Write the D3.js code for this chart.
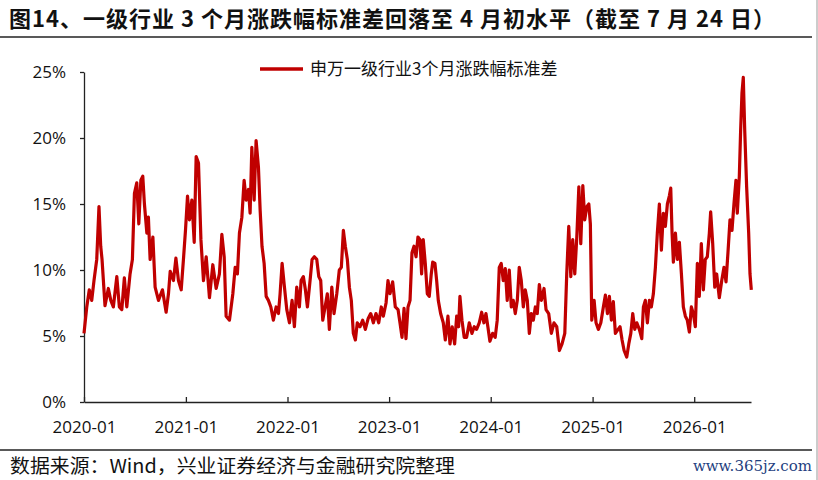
<!DOCTYPE html>
<html>
<head>
<meta charset="utf-8">
<script src="https://cdn.jsdelivr.net/npm/d3@7"></script>
<style>
  html, body { margin: 0; padding: 0; background: #fff; }
  svg { display: block; }
</style>
</head>
<body>
<svg id="chart" width="818" height="480"></svg>
<script>
const title = "图14、一级行业 3 个月涨跌幅标准差回落至 4 月初水平（截至 7 月 24 日）";
const source = "数据来源：Wind，兴业证券经济与金融研究院整理";
const seriesName = "申万一级行业3个月涨跌幅标准差";
const yTicks = [0, 5, 10, 15, 20, 25];
const startDate = new Date(2020, 0, 1);
const endDate = new Date(2026, 6, 24);

// time since 2020-01-01, in years
const yearsSince2020 = [
  0.000, 0.027, 0.052, 0.076, 0.098, 0.125, 0.147, 0.164, 0.177, 0.206,
  0.239, 0.263, 0.288, 0.322, 0.347, 0.371, 0.396, 0.420, 0.452, 0.475,
  0.495, 0.518, 0.538, 0.558, 0.577, 0.593, 0.617, 0.632, 0.649, 0.676,
  0.698, 0.731, 0.770, 0.806, 0.829, 0.846, 0.878, 0.902, 0.927, 0.954,
  0.976, 0.996, 1.016, 1.035, 1.059, 1.082, 1.101, 1.124, 1.148, 1.173,
  1.200, 1.232, 1.265, 1.298, 1.330, 1.354, 1.377, 1.396, 1.429, 1.462,
  1.485, 1.507, 1.527, 1.551, 1.573, 1.593, 1.616, 1.632, 1.649, 1.672,
  1.691, 1.714, 1.731, 1.749, 1.770, 1.790, 1.812, 1.836, 1.861, 1.888,
  1.911, 1.927, 1.947, 1.970, 1.993, 2.019, 2.045, 2.068, 2.091, 2.117,
  2.134, 2.156, 2.176, 2.196, 2.222, 2.242, 2.264, 2.288, 2.308, 2.327,
  2.347, 2.370, 2.392, 2.412, 2.436, 2.458, 2.485, 2.510, 2.530, 2.550,
  2.569, 2.589, 2.609, 2.628, 2.648, 2.668, 2.687, 2.714, 2.740, 2.766,
  2.793, 2.819, 2.845, 2.871, 2.898, 2.923, 2.943, 2.970, 2.989, 3.009,
  3.035, 3.061, 3.088, 3.107, 3.127, 3.147, 3.166, 3.186, 3.206, 3.225,
  3.245, 3.265, 3.284, 3.304, 3.320, 3.336, 3.356, 3.376, 3.395, 3.415,
  3.429, 3.451, 3.468, 3.484, 3.507, 3.533, 3.553, 3.579, 3.599, 3.621,
  3.645, 3.665, 3.684, 3.697, 3.717, 3.739, 3.763, 3.789, 3.815, 3.838,
  3.861, 3.887, 3.911, 3.933, 3.953, 3.972, 3.992, 4.019, 4.044, 4.064,
  4.084, 4.103, 4.123, 4.143, 4.162, 4.182, 4.202, 4.221, 4.241, 4.261,
  4.280, 4.300, 4.320, 4.339, 4.359, 4.379, 4.398, 4.418, 4.438, 4.457,
  4.477, 4.497, 4.523, 4.543, 4.569, 4.595, 4.621, 4.648, 4.674, 4.700,
  4.727, 4.746, 4.766, 4.786, 4.805, 4.825, 4.845, 4.865, 4.884, 4.904,
  4.923, 4.943, 4.963, 4.978, 4.992, 5.015, 5.034, 5.057, 5.081, 5.106,
  5.126, 5.146, 5.165, 5.185, 5.204, 5.224, 5.251, 5.270, 5.290, 5.310,
  5.336, 5.356, 5.376, 5.395, 5.415, 5.435, 5.460, 5.484, 5.500, 5.519,
  5.539, 5.559, 5.578, 5.598, 5.618, 5.637, 5.657, 5.677, 5.696, 5.716,
  5.736, 5.755, 5.769, 5.782, 5.795, 5.815, 5.834, 5.854, 5.874, 5.893,
  5.913, 5.932, 5.952, 5.972, 5.991, 6.011, 6.031, 6.050, 6.070, 6.090,
  6.109, 6.129, 6.149, 6.162, 6.182, 6.202, 6.221, 6.247, 6.271, 6.293,
  6.313, 6.332, 6.352, 6.372, 6.391, 6.411, 6.424, 6.444, 6.457, 6.470,
  6.483, 6.497, 6.516, 6.536, 6.549, 6.562
];

// 3-month return std across SW level-1 industries, %
const stdev = [
  5.2, 7.2, 8.5, 7.7, 9.2, 10.8, 14.8, 11.8, 10.8, 7.3,
  8.6, 7.7, 7.2, 9.5, 7.2, 7.0, 9.4, 7.2, 9.7, 10.8,
  15.8, 16.6, 13.5, 16.8, 17.1, 15.0, 12.8, 14.0, 10.8, 12.5,
  8.7, 7.7, 8.5, 6.8, 8.2, 9.9, 9.2, 10.9, 9.2, 8.5,
  10.8, 13.0, 15.6, 13.8, 15.3, 12.1, 18.6, 18.1, 12.3, 9.2,
  11.0, 7.9, 10.4, 8.6, 9.7, 12.7, 11.0, 6.5, 6.2, 8.2,
  10.2, 9.7, 12.8, 14.0, 16.8, 15.3, 16.1, 14.3, 19.3, 15.3,
  19.8, 17.8, 14.5, 11.8, 10.5, 8.0, 7.7, 7.2, 6.2, 7.2,
  6.7, 8.2, 10.5, 8.7, 7.0, 6.0, 7.7, 5.7, 8.7, 7.2,
  9.2, 9.5, 8.5, 7.2, 9.2, 10.8, 11.0, 10.8, 9.5, 9.2,
  6.2, 7.2, 8.2, 5.5, 8.7, 6.7, 8.2, 10.0, 10.2, 13.0,
  11.8, 10.8, 8.7, 7.7, 5.2, 4.7, 6.0, 5.7, 6.2, 5.5,
  6.3, 6.7, 6.0, 6.7, 6.0, 7.2, 6.5, 7.5, 9.2, 8.2,
  9.1, 7.2, 7.0, 6.0, 4.9, 7.1, 4.8, 7.2, 7.7, 11.3,
  11.8, 11.0, 12.5, 12.3, 9.7, 12.3, 10.5, 8.2, 8.0, 9.7,
  10.6, 10.5, 9.2, 7.7, 6.7, 6.0, 4.7, 6.5, 4.4, 5.7,
  4.4, 6.5, 5.7, 8.0, 6.2, 4.9, 4.9, 6.0, 5.2, 5.7,
  5.5, 6.0, 6.8, 6.0, 6.7, 5.7, 4.6, 5.2, 4.9, 6.2,
  10.2, 10.5, 9.2, 10.1, 7.7, 10.0, 7.2, 7.7, 6.7, 7.7,
  10.2, 9.2, 7.2, 8.5, 7.7, 5.2, 6.7, 6.2, 7.2, 6.7,
  8.9, 7.7, 8.6, 7.0, 6.7, 5.2, 6.0, 5.7, 3.9, 4.4,
  5.2, 9.7, 13.3, 9.5, 12.3, 9.7, 12.5, 16.3, 12.0, 16.4,
  13.8, 14.8, 15.0, 13.5, 6.2, 7.7, 6.0, 5.5, 6.0, 7.2,
  8.1, 6.7, 8.0, 6.2, 7.6, 5.2, 5.5, 5.7, 4.7, 3.9,
  3.4, 4.4, 5.2, 6.7, 5.5, 6.0, 5.5, 4.8, 7.2, 7.7,
  6.0, 7.7, 7.2, 8.2, 10.2, 12.8, 15.0, 11.5, 14.3, 13.3,
  15.0, 15.6, 16.2, 12.8, 10.6, 12.8, 10.8, 12.1, 9.7, 7.2,
  6.5, 6.2, 5.3, 7.2, 6.7, 5.7, 10.5, 8.0, 12.0, 8.5,
  10.8, 11.0, 12.8, 14.4, 12.0, 8.7, 9.7, 7.9, 9.2, 10.2,
  9.1, 11.3, 13.8, 13.0, 15.0, 16.8, 14.3, 17.1, 20.6, 23.4,
  24.6, 20.6, 16.3, 12.8, 9.7, 8.5
];

function toDate(t) {
  const y = 2020 + Math.floor(t);
  const a = new Date(y, 0, 1), b = new Date(y + 1, 0, 1);
  return new Date(+a + (t - Math.floor(t)) * (b - a));
}

const data = yearsSince2020.map((t, i) => ({ date: toDate(t), value: stdev[i] }));

const svg = d3.select("#chart"),
      width = 818,
      plotLeft = 84, plotRight = 751, plotTop = 72, plotBottom = 402;

svg.append("rect").attr("width", width).attr("height", 480).attr("fill", "#fff");

// title + rules
svg.append("text")
  .attr("x", 9).attr("y", 27)
  .attr("font-family", "'Noto Sans CJK SC', sans-serif")
  .attr("font-weight", "bold")
  .attr("font-size", 22)
  .attr("textLength", 766)
  .attr("lengthAdjust", "spacing")
  .attr("fill", "#111")
  .text(title);

svg.append("line").attr("x1", 0).attr("x2", 812).attr("y1", 37).attr("y2", 37)
  .attr("stroke", "#222").attr("stroke-width", 1.5);
svg.append("line").attr("x1", 0).attr("x2", 812).attr("y1", 450).attr("y2", 450)
  .attr("stroke", "#222").attr("stroke-width", 1.5);
svg.append("line").attr("x1", 817).attr("x2", 817).attr("y1", 0).attr("y2", 480)
  .attr("stroke", "#999").attr("stroke-width", 1);

const x = d3.scaleTime().domain([startDate, endDate]).range([plotLeft, plotRight]);
const y = d3.scaleLinear().domain([0, 25]).range([plotBottom, plotTop]);

const xAxis = d3.axisBottom(x)
  .tickValues(d3.timeYear.range(startDate, endDate))
  .tickFormat(d3.timeFormat("%Y-%m"))
  .tickSizeInner(-5).tickSizeOuter(0).tickPadding(19);

const yAxis = d3.axisLeft(y)
  .tickValues(yTicks)
  .tickFormat(d => d + "%")
  .tickSizeInner(4).tickSizeOuter(0).tickPadding(14);

const gx = svg.append("g")
  .attr("transform", `translate(0,${plotBottom})`)
  .call(xAxis);

const gy = svg.append("g")
  .attr("transform", `translate(${plotLeft},0)`)
  .call(yAxis);

[gx, gy].forEach(g => {
  g.selectAll("path, line").attr("stroke", "#222").attr("stroke-width", 1.3);
  g.selectAll("text")
    .attr("fill", "#111")
    .attr("font-family", "'Open Sans', 'Noto Sans', sans-serif")
    .attr("font-size", 17);
});

const line = d3.line()
  .x(d => x(d.date))
  .y(d => y(d.value));

svg.append("path")
  .datum(data)
  .attr("d", line)
  .attr("fill", "none")
  .attr("stroke", "#C00000")
  .attr("stroke-width", 3.2)
  .attr("stroke-linejoin", "round");

// legend
const legend = svg.append("g").attr("transform", "translate(260,69)");
legend.append("line").attr("x1", 0).attr("x2", 43)
  .attr("stroke", "#C00000").attr("stroke-width", 3.5);
legend.append("text")
  .attr("x", 50).attr("dy", "0.35em")
  .attr("font-family", "'Noto Sans CJK SC', sans-serif")
  .attr("font-size", 17)
  .attr("fill", "#111")
  .text(seriesName);

// footer
svg.append("text")
  .attr("x", 10).attr("y", 473)
  .attr("font-family", "'Noto Sans CJK SC', sans-serif")
  .attr("font-size", 19)
  .attr("textLength", 445)
  .attr("lengthAdjust", "spacingAndGlyphs")
  .attr("fill", "#111")
  .text(source);

svg.append("text")
  .attr("x", 812).attr("y", 471)
  .attr("text-anchor", "end")
  .attr("font-family", "'DejaVu Serif', 'Liberation Serif', serif")
  .attr("font-size", 15)
  .attr("fill", "#1f3f7f")
  .text("www.365jz.com");
</script>
</body>
</html>
